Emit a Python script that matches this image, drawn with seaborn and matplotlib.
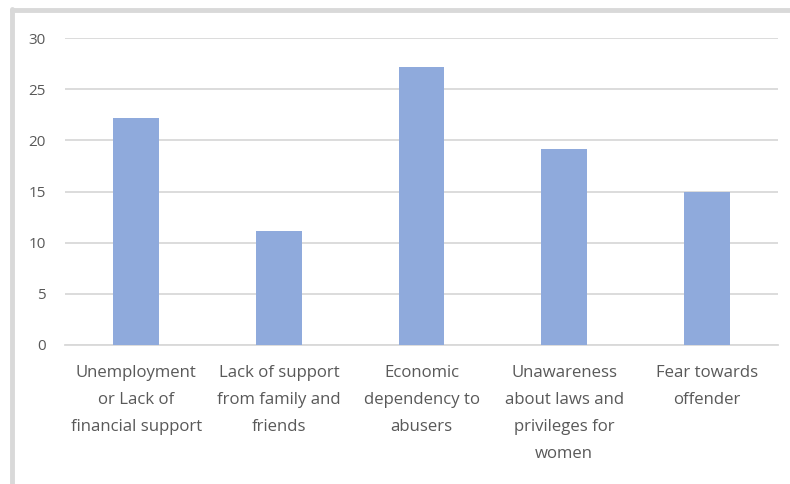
import matplotlib
matplotlib.use("Agg")
import matplotlib.pyplot as plt
import seaborn as sns
import pandas as pd
from matplotlib.lines import Line2D

categories = [
    "Unemployment\nor Lack of\nfinancial support",
    "Lack of support\nfrom family and\nfriends",
    "Economic\ndependency to\nabusers",
    "Unawareness\nabout laws and\nprivileges for\nwomen",
    "Fear towards\noffender",
]
values = [22.2, 11.1, 27.2, 19.2, 15.0]
yticks = [0, 5, 10, 15, 20, 25, 30]

sns.set_theme(style="white")
plt.rcParams['font.family'] = ['Open Sans', 'DejaVu Sans']

df = pd.DataFrame({"cat": categories, "val": values})

fig = plt.figure(figsize=(7.9, 4.84), dpi=100)
ax = fig.add_axes([65/790, 1-345/484, (778-65)/790, (345-38)/484])
sns.barplot(data=df, x="cat", y="val", color="#8faadc", width=0.32,
            saturation=1, linewidth=0, ax=ax, zorder=3)

ax.set_ylim(0, 30)
ax.set_xlim(-0.5, 4.5)
ax.set_yticks(yticks)
ax.set_yticklabels([str(t) for t in yticks])
ax.yaxis.grid(True, color="#d9d9d9", linewidth=1.3, zorder=0)
ax.set_axisbelow(True)
for s in ["top", "right", "left"]:
    ax.spines[s].set_visible(False)
ax.spines["bottom"].set_color("#d9d9d9")
ax.spines["bottom"].set_linewidth(1.3)
ax.set_xlabel("")
ax.set_ylabel("")
ax.tick_params(axis="y", length=0, pad=14, labelsize=11, labelcolor="#595959")
ax.tick_params(axis="x", length=0, pad=14.5, labelsize=12.1, labelcolor="#595959")
for lbl in ax.get_xticklabels():
    lbl.set_linespacing(1.92)

# outer chart border (left and top edges visible)
fig.add_artist(Line2D([11.5/790, 11.5/790], [0, 1-9/484], transform=fig.transFigure,
                      color="#d9d9d9", linewidth=3.5))
fig.add_artist(Line2D([11.5/790, 1], [1-9.5/484, 1-9.5/484], transform=fig.transFigure,
                      color="#d9d9d9", linewidth=3.5))

fig.savefig("out.png", dpi=100, facecolor="white")
